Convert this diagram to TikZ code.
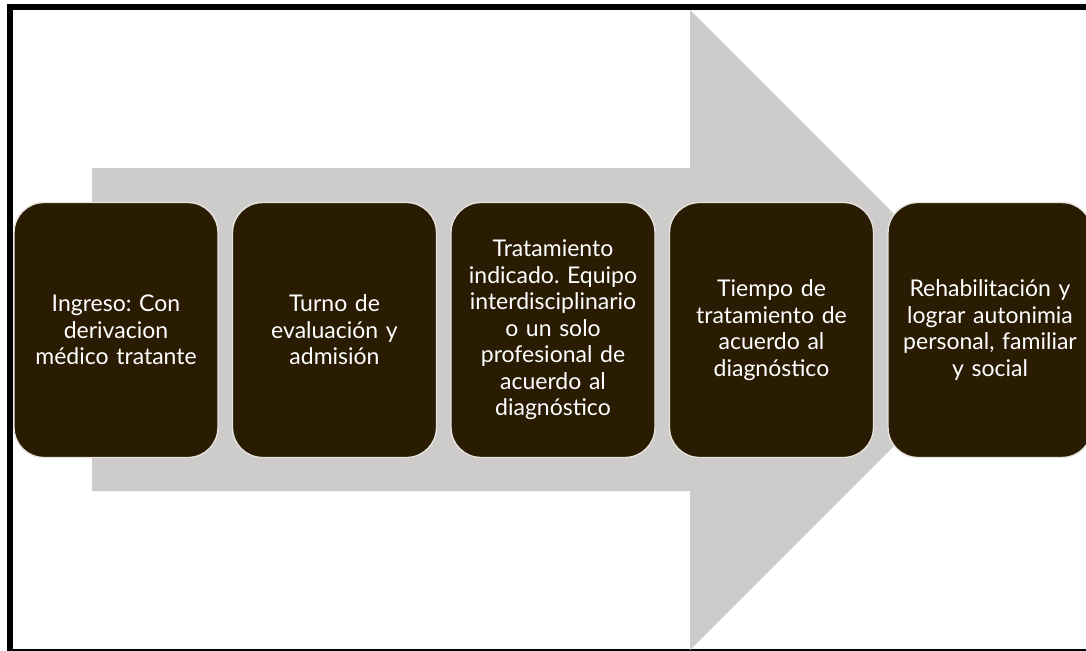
\documentclass[tikz,border=0pt]{standalone}
\usepackage{fontspec}
\setmainfont{Lato}
\frenchspacing
\usetikzlibrary{positioning}

\definecolor{boxbrown}{HTML}{2A1B03}
\definecolor{arrowgray}{HTML}{CDCCCA}
\definecolor{rimgray}{HTML}{E6E3DD}

\begin{document}
\begin{tikzpicture}[x=1pt, y=-1pt, node distance=14.5pt,
  stepbox/.style={draw=rimgray, line width=1.4pt, fill=boxbrown,
    rounded corners=30pt, minimum width=204pt, minimum height=255pt,
    inner sep=0pt, outer sep=0pt, text width=200pt, align=center,
    text=white, font=\fontsize{23}{26.5}\selectfont}]
  % Define page
  \useasboundingbox (0,0) rectangle (1086,650);
  \clip (0,0) rectangle (1086,650);

  % Frame
  \draw[line width=6pt] (10,7) rectangle (1095,652);

  % Big arrow behind the steps
  \coordinate (tail) at (92,168);
  \coordinate (tip) at (1010,330);
  \fill[arrowgray] (tail) -- (690,168) -- (690,10) -- (tip)
    -- (690,650) -- (690,491) -- (92,491) -- cycle;

  % Steps
  \node[stepbox] (ingreso) at (116,330)
    {Ingreso: Con\\derivacion\\médico tratante};
  \node[stepbox, right=of ingreso] (turno)
    {Turno de\\evaluación y\\admisión};
  \node[stepbox, right=of turno] (tratamiento)
    {Tratamiento\\indicado. Equipo\\interdisciplinario\\o un solo\\profesional de\\acuerdo al\\diagnóstico};
  \node[stepbox, right=of tratamiento] (tiempo)
    {Tiempo de\\tratamiento de\\acuerdo al\\diagnóstico};
  \node[stepbox, right=of tiempo] (rehab)
    {Rehabilitación y\\lograr autonimia\\personal, familiar\\y social};
\end{tikzpicture}
\end{document}
